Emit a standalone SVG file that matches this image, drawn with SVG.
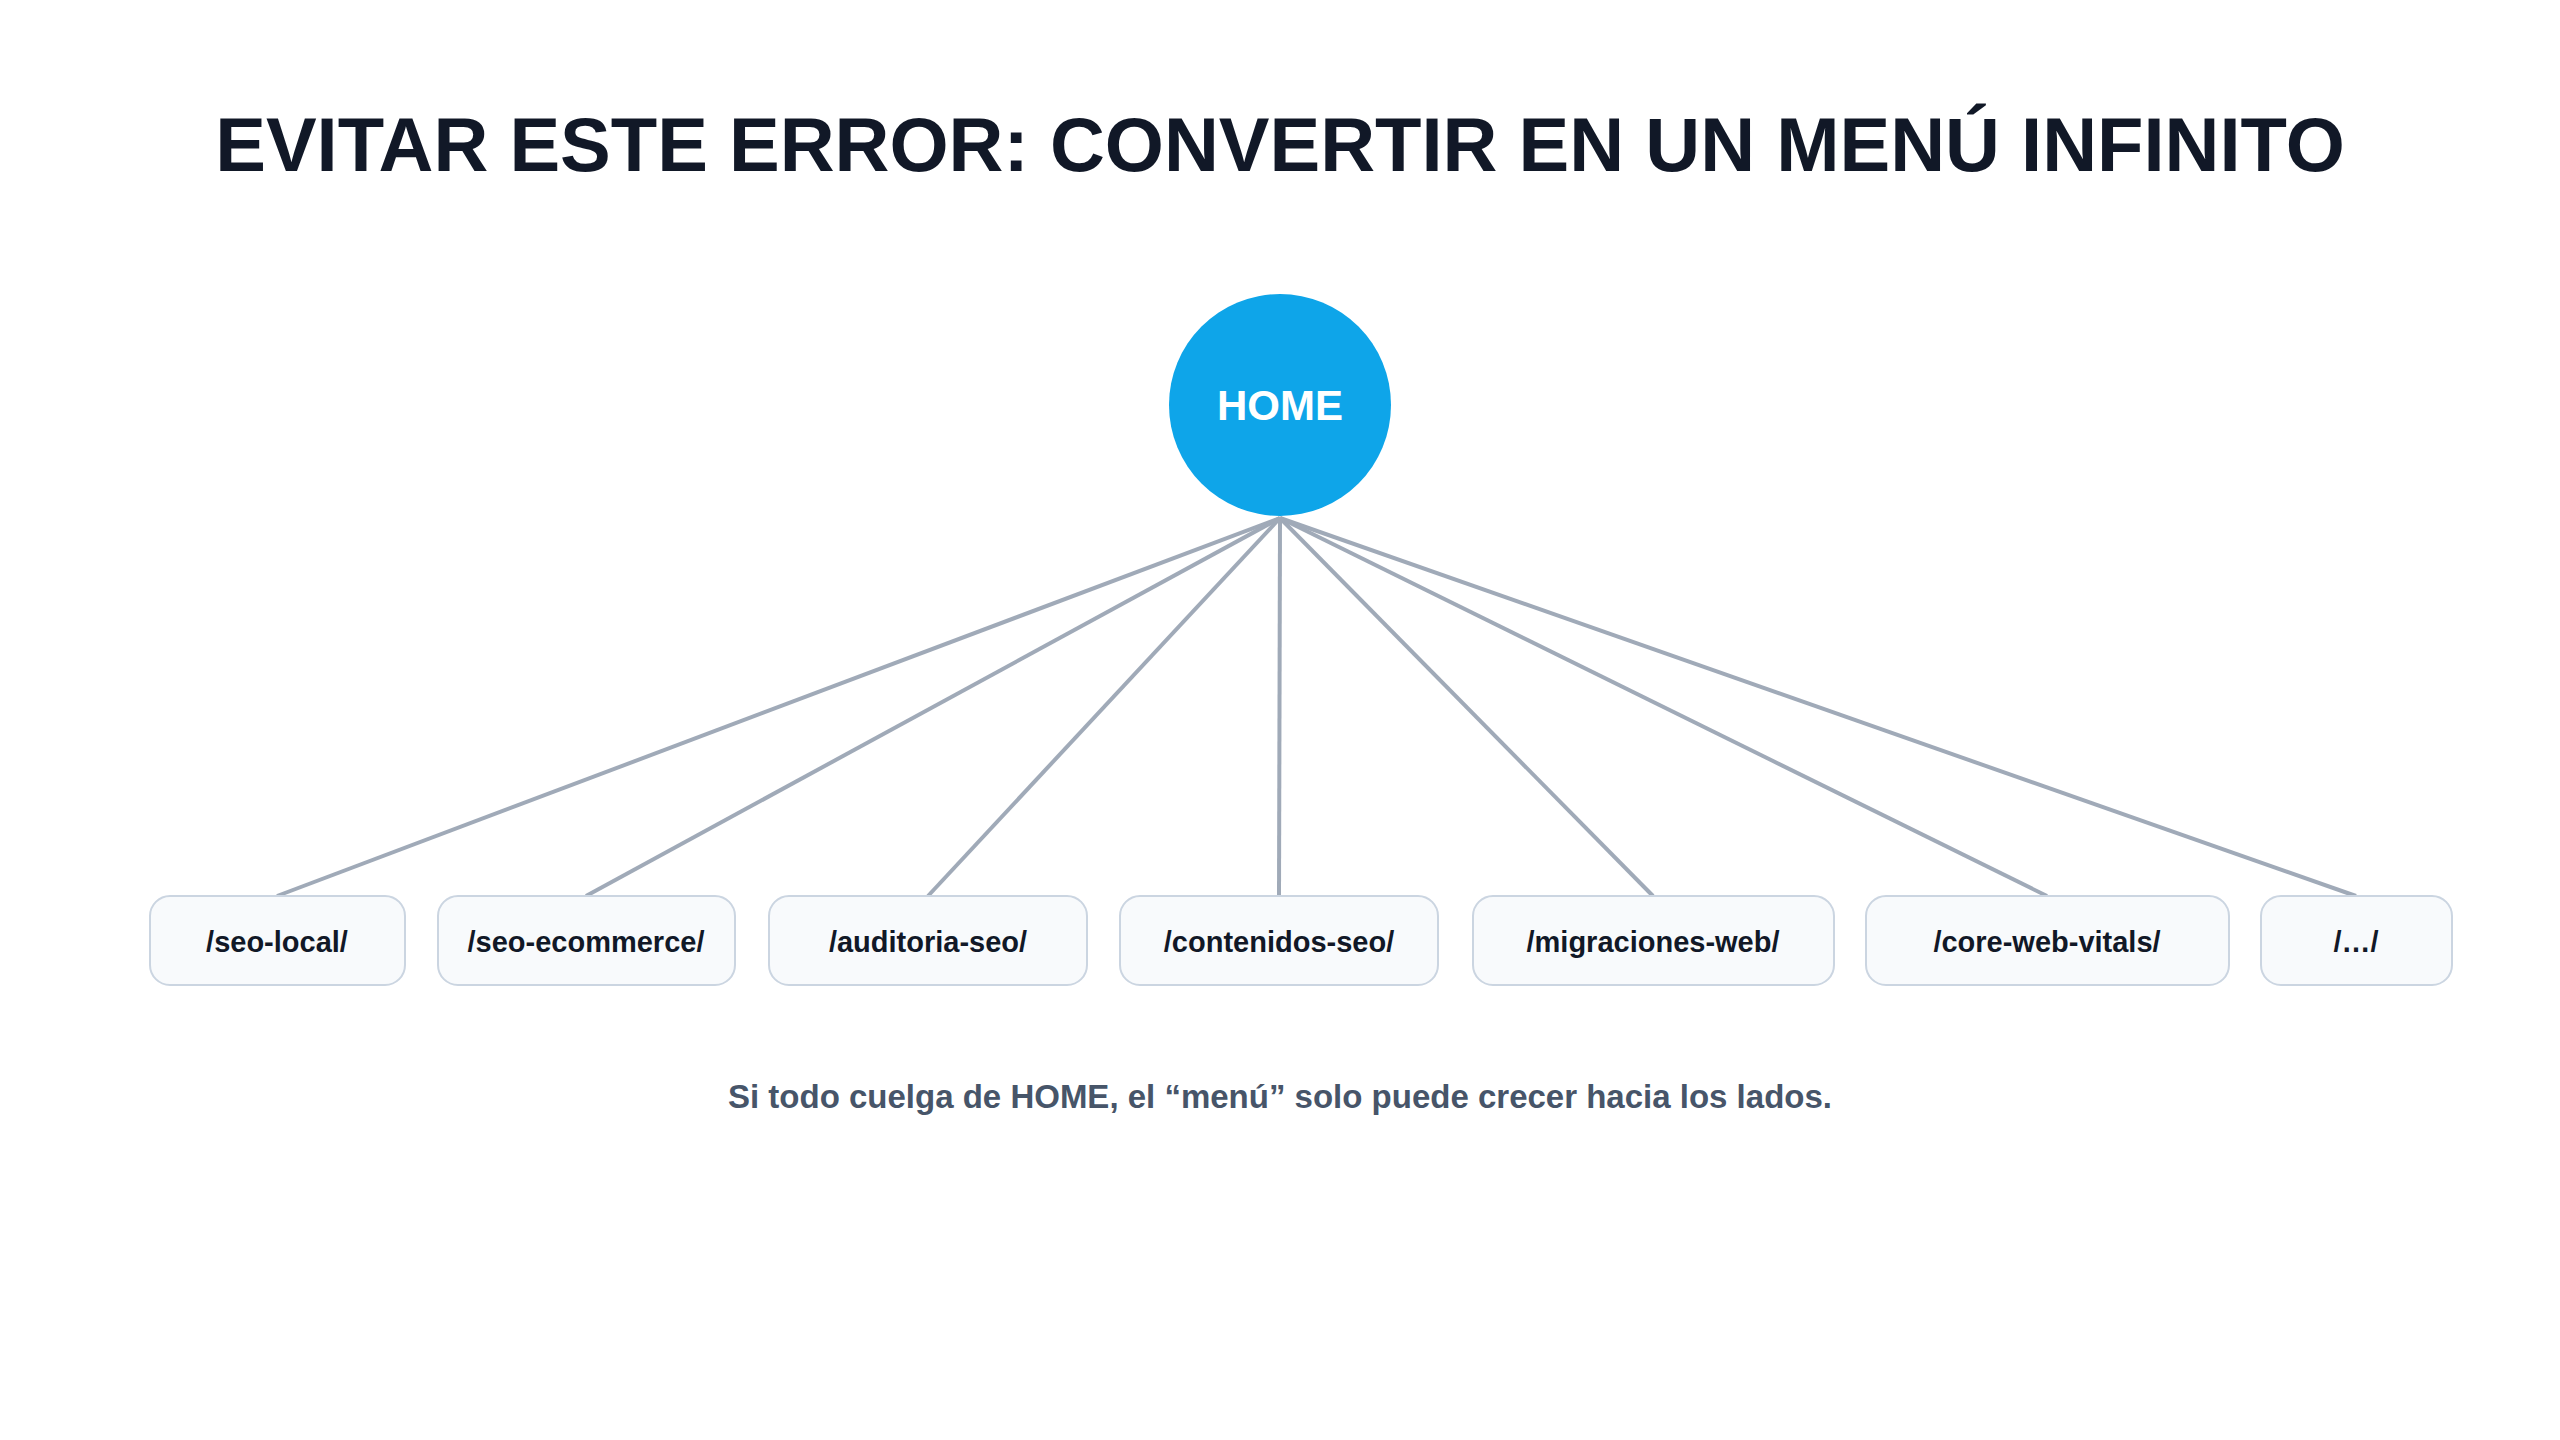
<svg xmlns="http://www.w3.org/2000/svg" width="2560" height="1440" viewBox="0 0 2560 1440">
<style>
.t{font-family:"Liberation Sans",Arial,sans-serif;font-weight:bold;text-anchor:middle}
.box{fill:#f8fafc;stroke:#cbd5e1;stroke-width:2}
.lbl{font-size:29px;fill:#111827;dominant-baseline:central}
.ln{stroke:#a0aab8;stroke-width:4;fill:none}
</style>
<rect width="2560" height="1440" fill="#ffffff"/>
<text class="t" x="1280" y="171" font-size="76" fill="#111827">EVITAR ESTE ERROR: CONVERTIR EN UN MENÚ INFINITO</text>
<g id="connectors">
<line class="ln" x1="1280" y1="518" x2="277" y2="896"/>
<line class="ln" x1="1280" y1="518" x2="586" y2="896"/>
<line class="ln" x1="1280" y1="518" x2="928" y2="896"/>
<line class="ln" x1="1280" y1="518" x2="1279" y2="896"/>
<line class="ln" x1="1280" y1="518" x2="1653" y2="896"/>
<line class="ln" x1="1280" y1="518" x2="2047" y2="896"/>
<line class="ln" x1="1280" y1="518" x2="2356" y2="896"/>
</g>
<g id="home">
<circle cx="1280" cy="405" r="111" fill="#0ea5e9"/>
<text class="t" x="1280" y="405" font-size="42" fill="#ffffff" dominant-baseline="central">HOME</text>
</g>
<g id="n1"><rect class="box" x="150" y="896" width="255" height="89" rx="20"/><text class="t lbl" x="277" y="942">/seo-local/</text></g>
<g id="n2"><rect class="box" x="438" y="896" width="297" height="89" rx="20"/><text class="t lbl" x="586" y="942">/seo-ecommerce/</text></g>
<g id="n3"><rect class="box" x="769" y="896" width="318" height="89" rx="20"/><text class="t lbl" x="928" y="942">/auditoria-seo/</text></g>
<g id="n4"><rect class="box" x="1120" y="896" width="318" height="89" rx="20"/><text class="t lbl" x="1279" y="942">/contenidos-seo/</text></g>
<g id="n5"><rect class="box" x="1473" y="896" width="361" height="89" rx="20"/><text class="t lbl" x="1653" y="942">/migraciones-web/</text></g>
<g id="n6"><rect class="box" x="1866" y="896" width="363" height="89" rx="20"/><text class="t lbl" x="2047" y="942">/core-web-vitals/</text></g>
<g id="n7"><rect class="box" x="2261" y="896" width="191" height="89" rx="20"/><text class="t lbl" x="2356" y="942">/…/</text></g>
<text class="t" x="1280" y="1108" font-size="33" fill="#475569">Si todo cuelga de HOME, el “menú” solo puede crecer hacia los lados.</text>
</svg>
